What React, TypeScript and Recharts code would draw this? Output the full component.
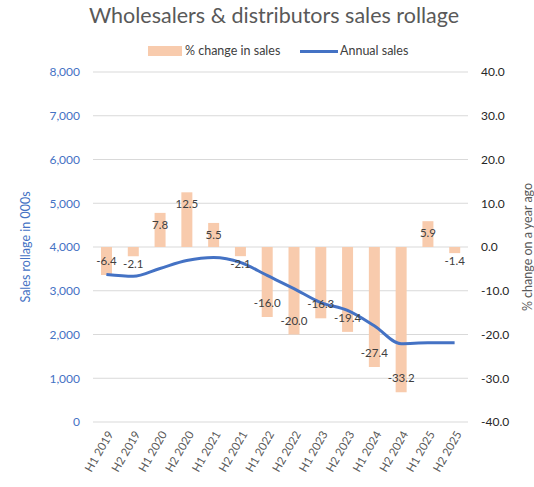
import * as React from 'react';
import { ComposedChart, Bar, Line, XAxis, YAxis, CartesianGrid, LabelList } from 'recharts';

const periods = [
  'H1 2019', 'H2 2019', 'H1 2020', 'H2 2020', 'H1 2021', 'H2 2021', 'H1 2022',
  'H2 2022', 'H1 2023', 'H2 2023', 'H1 2024', 'H2 2024', 'H1 2025', 'H2 2025',
];
const pctChange = [-6.4, -2.1, 7.8, 12.5, 5.5, -2.1, -16.0, -20.0, -16.3, -19.4, -27.4, -33.2, 5.9, -1.4];
const annualSales = [3370, 3330, 3510, 3690, 3760, 3650, 3350, 3050, 2730, 2550, 2200, 1790, 1810, 1810];
const leftTicks = [0, 1000, 2000, 3000, 4000, 5000, 6000, 7000, 8000];
const rightTicks = [-40, -30, -20, -10, 0, 10, 20, 30, 40];

const FONT = 'Lato, "Open Sans", sans-serif';
const BAR_FILL = '#F8CBAD';
const LINE_BLUE = '#4472C4';

const data = periods.map((p, i) => ({ period: p, pct: pctChange[i], sales: annualSales[i] }));

function BarLabel(props: any) {
  const { x, y, width, height, value } = props;
  const top = Math.min(y, y + height);
  const bottom = Math.max(y, y + height);
  const len = bottom - top;
  let cy: number;
  if (value >= 0) cy = top + 12;
  else cy = len > 20 ? bottom - 14 : bottom + 8;
  return (
    <text x={x + width / 2} y={cy} dy={4} textAnchor="middle" fontSize={11.5} fill="#404040" fontFamily={FONT}>
      {Number(value).toFixed(1)}
    </text>
  );
}

function XTick(props: any) {
  const { x, y, payload } = props;
  const ax = x + 4;
  const ay = y + 2;
  return (
    <text x={ax} y={ay} transform={`rotate(-60, ${ax}, ${ay})`} textAnchor="end" dy={4} fontSize={11.5} fill="#595959" fontFamily={FONT}>
      {payload.value}
    </text>
  );
}

export default function App() {
  return (
    <div style={{ position: 'absolute', left: 0, top: 0, width: 534, height: 487, background: '#fff', fontFamily: FONT }}>
      <div style={{ position: 'absolute', left: 0, width: 548, top: 2, textAlign: 'center', fontSize: 21.5, color: '#595959' }}>
        Wholesalers &amp; distributors sales rollage
      </div>
      <div style={{ position: 'absolute', left: 148, top: 46, width: 34, height: 10, background: BAR_FILL }} />
      <div style={{ position: 'absolute', left: 185, top: 43, fontSize: 12.5, color: '#404040' }}>% change in sales</div>
      <div style={{ position: 'absolute', left: 300, top: 50, width: 38, height: 3, background: LINE_BLUE }} />
      <div style={{ position: 'absolute', left: 340, top: 43, fontSize: 12.5, color: '#404040' }}>Annual sales</div>
      <ComposedChart width={534} height={487} data={data} margin={{ top: 72, right: 6, bottom: 5, left: 0 }}>
        <CartesianGrid vertical={false} stroke="#D9D9D9" yAxisId="left" />
        <XAxis
          dataKey="period"
          axisLine={false}
          tickLine={false}
          interval={0}
          height={60}
          tick={<XTick />}
        />
        <YAxis
          yAxisId="left"
          domain={[0, 8000]}
          ticks={leftTicks}
          width={93}
          axisLine={false}
          tickLine={false}
          tickMargin={7}
          tickFormatter={(v: number) => v.toLocaleString('en-US')}
          tick={{ fontSize: 12, fill: LINE_BLUE, fontFamily: FONT }}
          label={{
            value: 'Sales rollage in 000s',
            angle: -90,
            position: 'insideLeft',
            offset: 26,
            style: { fontSize: 12.5, fill: LINE_BLUE, fontFamily: FONT, textAnchor: 'middle' },
          }}
        />
        <YAxis
          yAxisId="right"
          orientation="right"
          domain={[-40, 40]}
          ticks={rightTicks}
          width={60}
          axisLine={false}
          tickLine={false}
          tickMargin={7}
          tickFormatter={(v: number) => v.toFixed(1)}
          tick={{ fontSize: 12, fill: '#262626', fontFamily: FONT }}
          label={{
            value: '% change on a year ago',
            angle: -90,
            position: 'insideRight',
            offset: 0,
            style: { fontSize: 12.5, fill: '#595959', fontFamily: FONT, textAnchor: 'middle' },
          }}
        />
        <Bar yAxisId="right" dataKey="pct" fill={BAR_FILL} barSize={11} isAnimationActive={false}>
          <LabelList dataKey="pct" content={<BarLabel />} />
        </Bar>
        <Line
          yAxisId="left"
          type="monotone"
          dataKey="sales"
          stroke={LINE_BLUE}
          strokeWidth={3}
          dot={false}
          isAnimationActive={false}
        />
      </ComposedChart>
    </div>
  );
}
